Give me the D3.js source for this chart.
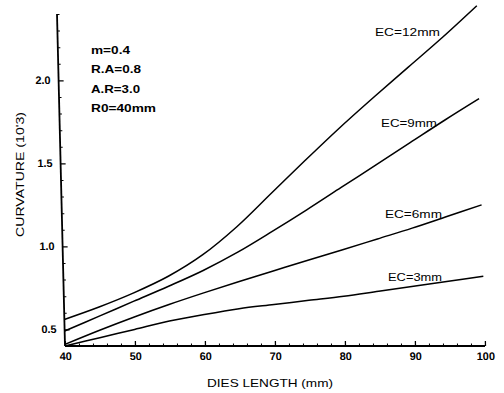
<!DOCTYPE html>
<html>
<head>
<meta charset="utf-8">
<script src="https://cdn.jsdelivr.net/npm/d3@7"></script>
<style>
  html, body { margin: 0; padding: 0; background: #fff; }
  svg { display: block; font-family: "Liberation Sans", Arial, sans-serif; }
</style>
</head>
<body>
<svg id="chart" width="504" height="393"></svg>
<script>
// Dies length (mm) sampled along each curve
const lengths = [40, 45, 50, 55, 60, 65, 70, 75, 80, 85, 90, 95, 100];

// Curvature (x10^-3) for each eccentricity
const ec12 = [0.56, 0.635, 0.72, 0.82, 0.95, 1.12, 1.32, 1.52, 1.715, 1.90, 2.08, 2.26, 2.45];
const ec9  = [0.49, 0.58, 0.67, 0.76, 0.855, 0.965, 1.09, 1.22, 1.355, 1.49, 1.625, 1.76, 1.89];
const ec6  = [0.41, 0.495, 0.575, 0.65, 0.72, 0.787, 0.852, 0.917, 0.98, 1.045, 1.11, 1.18, 1.25];
const ec3  = [0.40, 0.45, 0.50, 0.55, 0.59, 0.625, 0.65, 0.675, 0.70, 0.73, 0.76, 0.79, 0.82];

const seriesNames = ["EC=12mm", "EC=9mm", "EC=6mm", "EC=3mm"];
const seriesValues = [ec12, ec9, ec6, ec3];

// Axis ticks
const xMajor = [40, 50, 60, 70, 80, 90, 100];
const yMajor = [0.5, 1.0, 1.5, 2.0];

// Process parameters
const params = ["m=0.4", "R.A=0.8", "A.R=3.0", "R0=40mm"];

const xLabel = "DIES LENGTH (mm)";
const yLabel = "CURVATURE (10'3)";

const svg = d3.select("#chart");

const x = d3.scaleLinear().domain([40, 100]).range([65, 485]);
const y = d3.scaleLinear().domain([0.4, 2.4]).range([346, 14]);

// Plot group, sheared slightly like the printed figure
const plot = svg.append("g")
  .attr("transform", "translate(0,346) skewX(1.38) translate(0,-346)");

const xMinor = d3.range(40, 100.01, 2).filter(v => v % 10 !== 0);
const yMinor = d3.range(4, 24.01, 1).map(v => v / 10).filter(v => !yMajor.some(m => Math.abs(m - v) < 1e-6));

// X axis
plot.append("g")
  .attr("transform", `translate(0,${y(0.4)})`)
  .call(d3.axisBottom(x).tickValues(xMinor).tickSize(-2.5).tickFormat("").tickSizeOuter(0))
  .call(g => g.select(".domain").remove());

const gx = plot.append("g")
  .attr("transform", `translate(0,${y(0.4)})`)
  .call(d3.axisBottom(x).tickValues(xMajor).tickSize(-5).tickPadding(6)
    .tickFormat(d3.format("d")).tickSizeOuter(0));
gx.select(".domain").remove();
gx.selectAll("line").attr("stroke-width", 1.3);
gx.selectAll("text").attr("font-size", 11).attr("font-weight", "bold");

// Y axis
plot.append("g")
  .attr("transform", `translate(${x(40)},0)`)
  .call(d3.axisLeft(y).tickValues(yMinor).tickSize(-2.5).tickFormat("").tickSizeOuter(0))
  .call(g => g.select(".domain").remove());

const gy = plot.append("g")
  .attr("transform", `translate(${x(40)},0)`)
  .call(d3.axisLeft(y).tickValues(yMajor).tickSize(-5).tickPadding(8)
    .tickFormat(d3.format(".1f")).tickSizeOuter(0));
gy.select(".domain").remove();
gy.selectAll("line").attr("stroke-width", 1.3);
gy.selectAll("text").attr("font-size", 11).attr("font-weight", "bold");

// Axis frame lines
plot.append("line")
  .attr("x1", x(40)).attr("x2", x(100))
  .attr("y1", y(0.4)).attr("y2", y(0.4))
  .attr("stroke", "#000").attr("stroke-width", 1.8);
plot.append("line")
  .attr("x1", x(40)).attr("x2", x(40))
  .attr("y1", y(0.4)).attr("y2", y(2.4))
  .attr("stroke", "#000").attr("stroke-width", 1.8);

// Curves
const line = d3.line()
  .x((d, i) => x(lengths[i]))
  .y(d => y(d))
  .curve(d3.curveCatmullRom.alpha(0.5));

plot.selectAll("path.curve")
  .data(seriesValues)
  .join("path")
  .attr("class", "curve")
  .attr("d", line)
  .attr("fill", "none")
  .attr("stroke", "#000")
  .attr("stroke-width", 1.5);

// Curve labels
const labelPos = [
  { x: 375, y: 36, w: 65 },
  { x: 381, y: 127, w: 56 },
  { x: 385, y: 218, w: 57 },
  { x: 388, y: 281, w: 54 }
];
svg.selectAll("text.ec")
  .data(seriesNames)
  .join("text")
  .attr("class", "ec")
  .attr("x", (d, i) => labelPos[i].x)
  .attr("y", (d, i) => labelPos[i].y)
  .attr("textLength", (d, i) => labelPos[i].w)
  .attr("lengthAdjust", "spacingAndGlyphs")
  .attr("font-size", 11)
  .text(d => d);

// Parameter block
const paramWidths = [39, 50, 49, 65];
svg.selectAll("text.param")
  .data(params)
  .join("text")
  .attr("class", "param")
  .attr("x", 91)
  .attr("y", (d, i) => 54 + i * 19.3)
  .attr("textLength", (d, i) => paramWidths[i])
  .attr("lengthAdjust", "spacingAndGlyphs")
  .attr("font-size", 10.5)
  .attr("font-weight", "bold")
  .text(d => d);

// Axis titles
svg.append("text")
  .attr("x", 207).attr("y", 387)
  .attr("textLength", 126)
  .attr("lengthAdjust", "spacingAndGlyphs")
  .attr("font-size", 11.5)
  .text(xLabel);

svg.append("text")
  .attr("transform", "translate(24,237) rotate(-90)")
  .attr("textLength", 125)
  .attr("lengthAdjust", "spacingAndGlyphs")
  .attr("font-size", 11.5)
  .text(yLabel);
</script>
</body>
</html>
